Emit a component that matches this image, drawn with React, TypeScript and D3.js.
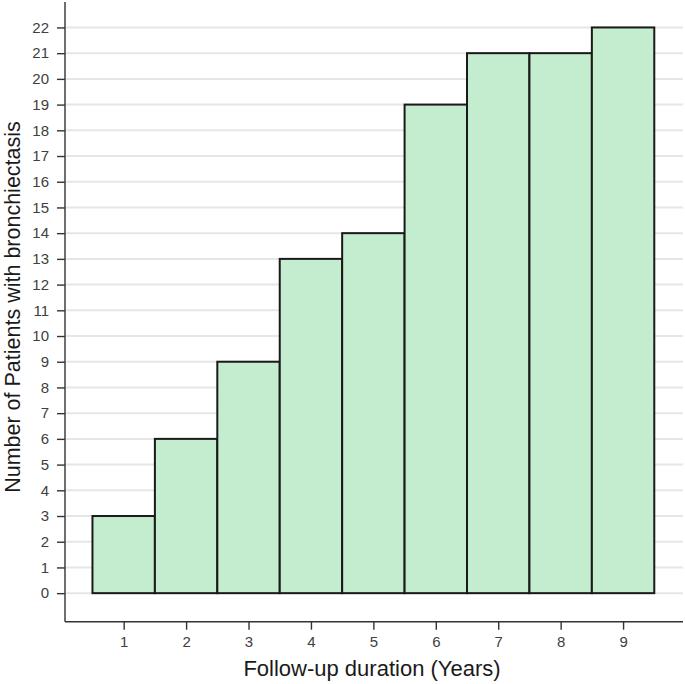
import { useEffect, useRef } from "react";
import * as d3 from "d3";

const years = [1, 2, 3, 4, 5, 6, 7, 8, 9];
const patients = [3, 6, 9, 13, 14, 19, 21, 21, 22];
const yTicks = d3.range(0, 23);

const W = 685;
const H = 684;

export default function App() {
  const ref = useRef<SVGSVGElement>(null);

  useEffect(() => {
    const svg = d3.select(ref.current);
    svg.selectAll("*").remove();

    const x = d3.scaleLinear().domain([0.06, 9.96]).range([65, 683]);
    const y = d3.scaleLinear().domain([-1.11, 22.99]).range([621.7, 2]);
    const font = "Liberation Sans, Arial, sans-serif";

    // gridlines
    svg
      .append("g")
      .selectAll("line")
      .data(yTicks)
      .enter()
      .append("line")
      .attr("x1", x(0.06) + 1)
      .attr("x2", 683)
      .attr("y1", (d) => y(d))
      .attr("y2", (d) => y(d))
      .attr("stroke", "#e6e6e6")
      .attr("stroke-width", 2);

    // bars
    svg
      .append("g")
      .selectAll("rect")
      .data(years)
      .enter()
      .append("rect")
      .attr("x", (d) => x(d - 0.5))
      .attr("y", (d, i) => y(patients[i]))
      .attr("width", (d) => x(d + 0.5) - x(d - 0.5))
      .attr("height", (d, i) => y(0) - y(patients[i]))
      .attr("fill", "#c4ecce")
      .attr("stroke", "#1a1a1a")
      .attr("stroke-width", 2);

    // y axis
    const yAxis = d3
      .axisLeft(y)
      .tickValues(yTicks)
      .tickSize(8)
      .tickPadding(8)
      .tickFormat(d3.format("d"));
    const gy = svg.append("g").attr("transform", "translate(65,0)").call(yAxis);
    gy.attr("font-size", null).attr("font-family", null);
    gy.select(".domain").attr("d", `M0,${y(22.99)}V${y(-1.11)}`).attr("stroke", "#333").attr("stroke-width", 1.4);
    gy.selectAll(".tick line").attr("stroke", "#333").attr("stroke-width", 1.4);
    gy.selectAll(".tick text")
      .attr("fill", "#404040")
      .style("font-family", font)
      .style("font-size", "15px");

    // x axis
    const xAxis = d3
      .axisBottom(x)
      .tickValues(years)
      .tickSize(8)
      .tickPadding(7)
      .tickFormat(d3.format("d"));
    const gx = svg.append("g").attr("transform", "translate(0,621.7)").call(xAxis);
    gx.attr("font-size", null).attr("font-family", null);
    gx.select(".domain").attr("d", `M${x(0.06)},0H683`).attr("stroke", "#333").attr("stroke-width", 1.4);
    gx.selectAll(".tick line").attr("stroke", "#333").attr("stroke-width", 1.4);
    gx.selectAll(".tick text")
      .attr("fill", "#404040")
      .style("font-family", font)
      .style("font-size", "15px");

    // titles
    svg
      .append("text")
      .attr("x", 372)
      .attr("y", 676)
      .attr("text-anchor", "middle")
      .attr("fill", "#1a1a1a")
      .style("font-family", font)
      .style("font-size", "22px")
      .text("Follow-up duration (Years)");

    svg
      .append("text")
      .attr("transform", `translate(20,307) rotate(-90)`)
      .attr("text-anchor", "middle")
      .attr("fill", "#1a1a1a")
      .style("font-family", font)
      .style("font-size", "21.5px")
      .text("Number of Patients with bronchiectasis");
  }, []);

  return (
    <svg
      ref={ref}
      width={W}
      height={H}
      style={{ position: "absolute", left: 0, top: 0, background: "#fff" }}
    />
  );
}
